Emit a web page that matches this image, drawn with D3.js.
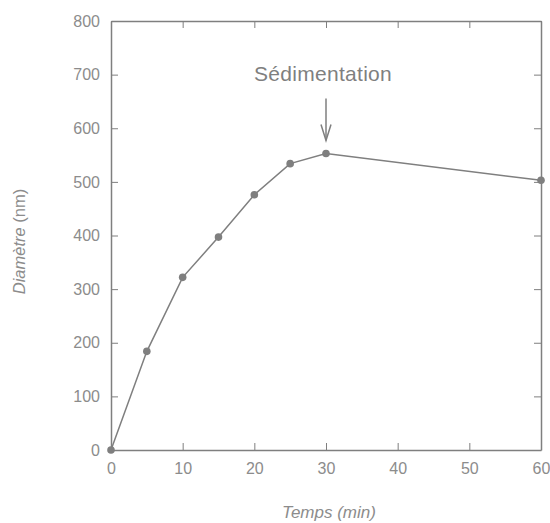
<!DOCTYPE html>
<html>
<head>
<meta charset="utf-8">
<script src="https://cdn.jsdelivr.net/npm/d3@7"></script>
<style>
  body { margin: 0; background: #fff; }
  text { font-family: "Liberation Sans", Arial, sans-serif; }
</style>
</head>
<body>
<div id="chart"></div>
<script>
let temps = [0, 5, 10, 15, 20, 25, 30, 60];
let diametre = [0, 184, 322, 397, 476, 534, 553, 503];
let xTicks = [0, 10, 20, 30, 40, 50, 60];
let yTicks = [0, 100, 200, 300, 400, 500, 600, 700, 800];
let annotation = {label: "Sédimentation", at: 30};

let margin = {top: 21, right: 9, bottom: 73, left: 111},
    width = 550 - margin.left - margin.right,
    height = 523 - margin.top - margin.bottom;

let grey = "#7f7f7f";
let labelGrey = "#8c8c8c";

let svg = d3.select("#chart")
  .append("svg")
    .attr("width", 550)
    .attr("height", 523)
  .append("g")
    .attr("transform", "translate(" + margin.left + "," + margin.top + ")");

let x = d3.scaleLinear().domain([0, 60]).range([0, width]);
let y = d3.scaleLinear().domain([0, 800]).range([height, 0]);

// axes, ticks pointing inward, mirrored on top/right
function styleAxis(g) {
  g.select(".domain").attr("stroke", grey).attr("stroke-width", 1.5);
  g.selectAll(".tick line").attr("stroke", grey).attr("stroke-width", 1);
  g.selectAll(".tick text")
    .attr("fill", labelGrey)
    .attr("font-family", "Liberation Sans, Arial, sans-serif")
    .style("font-size", "16px");
}

svg.append("g")
  .attr("transform", "translate(0," + height + ")")
  .call(d3.axisBottom(x).tickValues(xTicks).tickSizeInner(-7).tickSizeOuter(0).tickPadding(13))
  .call(styleAxis);

svg.append("g")
  .call(d3.axisTop(x).tickValues(xTicks).tickSizeInner(-7).tickSizeOuter(0).tickFormat(""))
  .call(styleAxis);

svg.append("g")
  .call(d3.axisLeft(y).tickValues(yTicks).tickSizeInner(-7).tickSizeOuter(0).tickPadding(11))
  .call(styleAxis);

svg.append("g")
  .attr("transform", "translate(" + width + ",0)")
  .call(d3.axisRight(y).tickValues(yTicks).tickSizeInner(-7).tickSizeOuter(0).tickFormat(""))
  .call(styleAxis);

// axis titles
svg.append("text")
  .attr("x", width / 2 + 3)
  .attr("y", height + 68)
  .attr("text-anchor", "middle")
  .attr("fill", labelGrey)
  .style("font-size", "17px")
  .style("font-style", "italic")
  .text("Temps (min)");

let yt = svg.append("text")
  .attr("transform", "translate(" + (-86) + "," + (height / 2 + 6) + ") rotate(-90)")
  .attr("text-anchor", "middle")
  .attr("fill", labelGrey)
  .style("font-size", "16.5px");
yt.append("tspan").style("font-style", "italic").text("Diamètre");
yt.append("tspan").text(" (nm)");

// line + points
let data = temps.map((t, i) => ({t: t, d: diametre[i]}));

let line = d3.line()
  .x(d => x(d.t))
  .y(d => y(d.d));

svg.append("path")
  .datum(data)
  .attr("d", line)
  .attr("fill", "none")
  .attr("stroke", grey)
  .attr("stroke-width", 1.5);

svg.selectAll(".pt")
  .data(data)
  .enter().append("circle")
    .attr("class", "pt")
    .attr("cx", d => x(d.t))
    .attr("cy", d => y(d.d))
    .attr("r", 3.8)
    .attr("fill", grey);

// annotation arrow
let ax = x(annotation.at);
let tipY = y(diametre[temps.indexOf(annotation.at)]) - 13;
svg.append("line")
  .attr("x1", ax).attr("x2", ax)
  .attr("y1", tipY - 42).attr("y2", tipY)
  .attr("stroke", grey).attr("stroke-width", 1.5);
svg.append("path")
  .attr("d", "M" + (ax - 5) + "," + (tipY - 16) + "L" + ax + "," + tipY + "L" + (ax + 5) + "," + (tipY - 16))
  .attr("fill", "none")
  .attr("stroke", grey)
  .attr("stroke-width", 1.5);

svg.append("text")
  .attr("x", ax - 3)
  .attr("y", tipY - 59)
  .attr("text-anchor", "middle")
  .attr("fill", grey)
  .style("font-size", "21px")
  .style("letter-spacing", "0.3px")
  .text(annotation.label);
</script>
</body>
</html>
